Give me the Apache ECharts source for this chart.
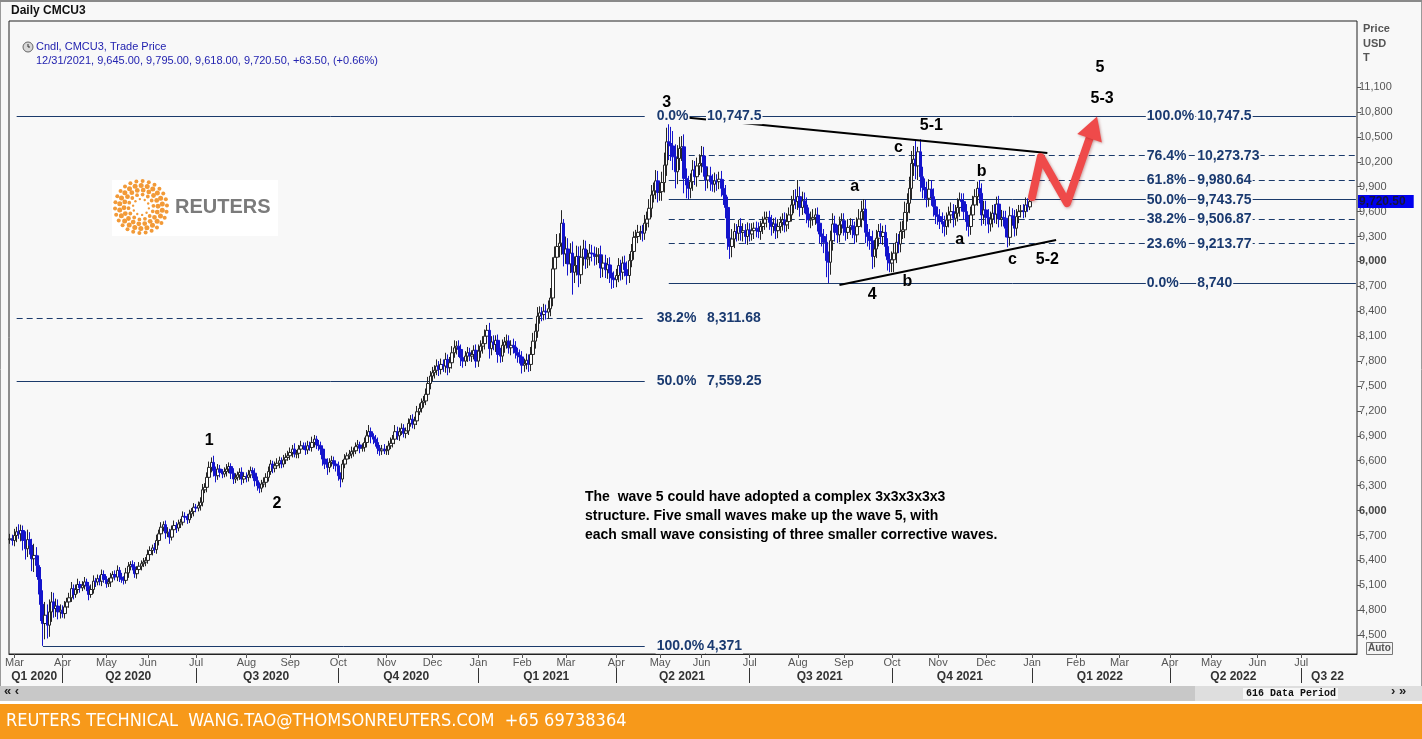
<!DOCTYPE html>
<html>
<head>
<meta charset="utf-8">
<title>Daily CMCU3</title>
<script src="https://cdn.jsdelivr.net/npm/echarts@6/dist/echarts.min.js"></script>
<style>
html, body {margin:0; padding:0; background:#f8f8f8;}
#chart {width:1422px; height:739px;}
</style>
</head>
<body>
<div id="chart"></div>
<script>
// daily closes, USD/t, one line per month
var closes2020 = [
    5660, 5640,
    5700, 5745, 5720, 5760, 5640, 5540, 5650, 5580, 5420, 5460, 5340, 5170, 4870, 4640, 4740, 4620, 4780, 4900, 4820, 4850, 4780, 4800,
    4760, 4840, 4900, 4950, 5060, 4990, 5050, 5110, 5070, 5100, 5140, 5090, 4990, 5050, 5150, 5140, 5180, 5150, 5230, 5170,
    5120, 5140, 5190, 5230, 5200, 5280, 5200, 5170, 5160, 5250, 5330, 5350, 5320, 5240, 5290, 5330, 5360, 5380, 5400,
    5470, 5520, 5550, 5530, 5640, 5720, 5800, 5830, 5730, 5740, 5680, 5770, 5820, 5790, 5840, 5860, 5930, 5920, 5890, 5960, 5990, 6040,
    6030, 6060, 6100, 6250, 6280, 6400, 6520, 6580, 6480, 6420, 6500, 6460, 6440, 6470, 6500, 6530, 6450, 6380, 6400, 6430, 6460, 6380, 6410,
    6400, 6430, 6480, 6450, 6360, 6300, 6270, 6320, 6340, 6400, 6470, 6560, 6510, 6540, 6570, 6600, 6560, 6610, 6640, 6660,
    6700, 6740, 6680, 6690, 6740, 6780, 6770, 6730, 6780, 6760, 6820, 6860, 6790, 6780, 6740, 6620, 6560, 6520, 6580, 6600, 6560, 6540,
    6420, 6380, 6560, 6620, 6660, 6680, 6710, 6720, 6770, 6790, 6750, 6760, 6820, 6900, 6950, 6890, 6860, 6820, 6750, 6720, 6740, 6720,
    6730, 6780, 6810, 6860, 6950, 6900, 6950, 6990, 6930, 6960, 7050, 7100, 7040, 7080, 7190, 7230, 7300, 7320, 7400, 7530, 7620,
    7660, 7690, 7740, 7700, 7760, 7740, 7820, 7720, 7780, 7900, 7960, 7980, 7940, 7840, 7800, 7860, 7900, 7860, 7880, 7930, 7800
];
var closes2021 = [
    7920, 7980, 8010, 8100, 8170, 7950, 8030, 8000, 8050, 7880, 7860, 7990, 8030, 8040, 7960, 7990, 7970, 7900, 7870, 7850,
    7750, 7770, 7810, 7760, 7880, 8040, 8160, 8340, 8380, 8360, 8400, 8390, 8430, 8560, 8910, 9050, 9180, 9220, 9460, 9090,
    9150, 8970, 9100, 8870, 8950, 9060, 8840, 9050, 9150, 9030, 9050, 9100, 9090, 9060, 9070, 9080, 8920, 8980, 8900, 8960, 8860, 8800, 8780,
    8830, 8950, 8870, 8980, 8900, 8830, 9010, 9120, 9290, 9300, 9350, 9360, 9340, 9460, 9510, 9640, 9800, 9850, 9970, 9830,
    9840, 9950, 10160, 10440, 10420, 10390, 10260, 10080, 10240, 10360, 10380, 10000, 9920, 9880, 9960, 10100, 10020, 10150, 10180,
    10270, 10140, 9980, 10030, 9960, 9930, 9970, 9960, 9990, 9880, 9800, 9650, 9280, 9180, 9270, 9360, 9340, 9420, 9350, 9370, 9300, 9380,
    9330, 9370, 9400, 9380, 9360, 9420, 9460, 9510, 9530, 9470, 9420, 9450, 9370, 9420, 9470, 9500, 9440, 9480, 9560, 9680, 9740, 9720,
    9780, 9650, 9730, 9680, 9570, 9500, 9510, 9530, 9560, 9460, 9330, 9300, 9230, 9010, 8990, 9250, 9450, 9350, 9320, 9440, 9490,
    9400, 9350, 9410, 9430, 9380, 9320, 9420, 9510, 9600, 9630, 9350, 9300, 9250, 9060, 9150, 9280, 9360, 9300, 9350, 9180, 9020, 8980,
    9020, 9100, 9230, 9210, 9360, 9380, 9590, 9700, 9880, 10180, 10230, 10150, 10320, 10020, 9890, 9860, 9760, 9870, 9780, 9660, 9560,
    9540, 9480, 9450, 9420, 9500, 9560, 9600, 9520, 9580, 9650, 9740, 9720, 9600, 9480, 9420, 9560, 9680, 9780, 9880, 9820, 9560, 9620,
    9530, 9450, 9510, 9580, 9570, 9690, 9510, 9530, 9520, 9400, 9290, 9550, 9520, 9400, 9540, 9600, 9610, 9600, 9680, 9657, 9720.5
];
// wick lengths (USD above the body top / below the body bottom)
var highAbove2020 = [
    60, 50,
    80, 60, 90, 70, 60, 110, 120, 90, 80, 140, 100, 120, 150, 170, 160, 130, 150, 120, 110, 90, 80, 70,
    60, 70, 50, 60, 80, 50, 60, 70, 40, 50, 60, 40, 50, 60, 70, 40, 50, 40, 60, 50,
    40, 50, 60, 40, 50, 60, 40, 50, 40, 60, 50, 40, 50, 60, 40, 50, 40, 50, 40,
    60, 50, 40, 60, 70, 50, 60, 40, 50, 60, 40, 50, 60, 40, 50, 40, 60, 50, 40, 50, 40, 50,
    40, 50, 60, 70, 50, 60, 70, 60, 80, 50, 60, 50, 40, 50, 60, 50, 40, 60, 50, 40, 50, 60, 40,
    50, 60, 50, 40, 60, 50, 40, 50, 60, 50, 60, 50, 40, 50, 60, 50, 40, 60, 50, 60,
    60, 50, 70, 40, 50, 60, 40, 50, 60, 50, 70, 50, 40, 60, 50, 40, 60, 70, 50, 60, 50, 40,
    50, 40, 50, 60, 40, 50, 60, 40, 50, 60, 40, 50, 60, 70, 80, 50, 40, 50, 60, 40, 50, 60,
    50, 60, 70, 50, 80, 60, 50, 60, 50, 40, 60, 50, 60, 50, 70, 60, 50, 60, 70, 80, 60,
    70, 60, 80, 60, 70, 60, 80, 60, 70, 80, 90, 60, 70, 60, 70, 60, 70, 60, 50, 60, 70
];
var lowBelow2020 = [
    50, 60,
    70, 80, 60, 90, 120, 130, 100, 110, 150, 160, 140, 180, 200, 269, 190, 160, 140, 120, 110, 100, 90, 80,
    50, 60, 40, 70, 50, 60, 40, 50, 60, 40, 50, 60, 70, 40, 50, 60, 40, 50, 60, 40,
    50, 40, 60, 50, 40, 50, 60, 40, 50, 40, 60, 50, 40, 50, 60, 40, 50, 40, 50,
    40, 50, 60, 40, 50, 60, 40, 50, 70, 50, 80, 40, 50, 60, 40, 50, 40, 60, 50, 40, 50, 60,
    50, 40, 60, 50, 40, 60, 50, 60, 70, 80, 50, 60, 50, 40, 60, 50, 70, 60, 50, 40, 60, 70, 50,
    60, 50, 40, 60, 70, 60, 60, 50, 40, 60, 50, 40, 60, 50, 40, 60, 50, 40, 50, 40,
    50, 60, 40, 50, 60, 50, 40, 60, 50, 40, 50, 60, 50, 60, 70, 80, 60, 90, 60, 50, 60, 70,
    60, 100, 40, 50, 60, 40, 50, 60, 40, 50, 60, 40, 50, 60, 70, 80, 60, 50, 70, 60, 50, 40,
    50, 60, 40, 50, 60, 50, 60, 40, 50, 60, 50, 40, 50, 60, 50, 40, 50, 60, 50, 60, 70,
    60, 70, 60, 80, 60, 70, 80, 90, 60, 70, 60, 80, 90, 100, 80, 60, 70, 60, 70, 60, 80
];
var highAbove2021 = [
    80, 70, 90, 80, 65, 90, 70, 80, 60, 70, 80, 70, 60, 80, 70, 60, 80, 70, 60, 70,
    70, 60, 80, 70, 90, 100, 90, 110, 80, 70, 90, 80, 100, 120, 140, 130, 150, 120, 157, 50,
    150, 130, 120, 140, 110, 130, 120, 140, 110, 100, 90, 110, 100, 90, 100, 80, 110, 90, 100, 80, 90, 100, 80,
    80, 90, 70, 80, 90, 100, 80, 90, 70, 80, 90, 70, 80, 100, 90, 110, 120, 100, 130, 120,
    110, 130, 150, 170, 307.5, 200, 180, 150, 160, 140, 130, 150, 120, 110, 100, 120, 110, 100, 110,
    120, 110, 130, 100, 110, 90, 100, 80, 90, 100, 110, 120, 130, 140, 120, 100, 90, 80, 100, 90, 80, 90,
    80, 90, 70, 80, 90, 70, 80, 90, 70, 80, 90, 70, 80, 90, 70, 80, 90, 100, 90, 110, 120, 130,
    200, 120, 110, 100, 90, 80, 90, 100, 80, 90, 100, 80, 90, 100, 110, 120, 130, 100, 90, 100, 90,
    90, 80, 100, 90, 80, 100, 110, 120, 130, 120, 110, 100, 90, 120, 110, 100, 90, 100, 80, 90, 100, 80,
    100, 120, 110, 100, 120, 110, 130, 120, 140, 150, 160, 222, 60, 150, 120, 110, 100, 120, 110, 100, 90,
    100, 90, 110, 100, 90, 100, 110, 90, 100, 110, 90, 80, 100, 90, 80, 100, 110, 90, 80, 100, 120, 110,
    110, 100, 90, 100, 110, 90, 100, 90, 80, 90, 100, 110, 90, 100, 90, 80, 70, 80, 90, 80, 74.5
];
var lowBelow2021 = [
    70, 80, 90, 70, 60, 120, 80, 70, 90, 100, 80, 70, 90, 80, 70, 90, 80, 70, 90, 80,
    100, 80, 70, 90, 80, 70, 90, 80, 90, 80, 70, 90, 80, 90, 100, 110, 120, 130, 140, 150,
    120, 140, 110, 270, 130, 120, 150, 110, 100, 120, 110, 100, 90, 110, 100, 90, 120, 110, 100, 110, 120, 130, 100,
    90, 80, 100, 90, 80, 110, 90, 80, 100, 90, 80, 90, 100, 80, 90, 100, 110, 90, 100, 120,
    100, 110, 120, 130, 200, 180, 160, 200, 150, 140, 150, 180, 160, 130, 120, 110, 100, 120, 110,
    110, 120, 130, 100, 110, 90, 100, 110, 90, 100, 120, 130, 140, 150, 130, 110, 100, 90, 100, 110, 90, 100,
    90, 80, 100, 90, 80, 100, 90, 80, 100, 90, 110, 80, 100, 90, 80, 100, 90, 80, 90, 80, 100, 90,
    100, 110, 90, 100, 110, 90, 100, 80, 90, 100, 110, 120, 130, 200, 250, 150, 120, 110, 100, 90, 100,
    90, 100, 80, 90, 100, 110, 90, 80, 100, 110, 130, 120, 110, 150, 130, 110, 100, 90, 100, 120, 130, 110,
    110, 150, 120, 110, 100, 90, 100, 110, 120, 130, 150, 160, 170, 180, 130, 120, 110, 100, 110, 120, 110,
    100, 90, 110, 120, 100, 90, 100, 110, 90, 100, 110, 120, 100, 110, 120, 100, 90, 100, 110, 120, 130, 110,
    100, 110, 90, 100, 110, 120, 100, 90, 100, 110, 120, 100, 90, 100, 90, 80, 70, 80, 70, 60, 39
];
var firstOpen = 5650;

// LME closed days, the axis skips them
var holidays = ['2020-04-10','2020-04-13','2020-05-08','2020-05-25','2020-08-31','2020-12-25','2020-12-28',
    '2021-01-01','2021-04-02','2021-04-05','2021-05-03','2021-05-31','2021-08-30','2021-12-27','2021-12-28',
    '2022-01-03','2022-04-15','2022-04-18','2022-05-02','2022-06-02','2022-06-03'];
var monthNames = ['Jan','Feb','Mar','Apr','May','Jun','Jul','Aug','Sep','Oct','Nov','Dec'];
var quarterLabels = ['Q1 2020','Q2 2020','Q3 2020','Q4 2020','Q1 2021','Q2 2021','Q3 2021','Q4 2021','Q1 2022','Q2 2022','Q3 22'];
var yTicks = [4500, 4800, 5100, 5400, 5700, 6000, 6300, 6600, 6900, 7200, 7500, 7800, 8100, 8400, 8700, 9000,
    9300, 9600, 9900, 10200, 10500, 10800, 11100];

// fibonacci levels: 4,371 -> 10,747.5 and 8,740 -> 10,747.5
var fibBigPct = ['0.0%', '38.2%', '50.0%', '100.0%'];
var fibBigVal = [10747.5, 8311.68, 7559.25, 4371];
var fibSmallPct = ['100.0%', '76.4%', '61.8%', '50.0%', '38.2%', '23.6%', '0.0%'];
var fibSmallVal = [10747.5, 10273.73, 9980.64, 9743.75, 9506.87, 9213.77, 8740];

// elliott wave labels [text, bar index, price]
var waveLabels = [
    ['1', 91, 6838], ['2', 122, 6079], ['3', 300, 10907], ['4', 394, 8596], ['5', 498, 11329],
    ['5-1', 421, 10630], ['5-2', 474, 9017], ['5-3', 499, 10956],
    ['a', 386, 9896], ['c', 406, 10366], ['b', 444, 10077],
    ['b', 410, 8752], ['a', 434, 9258], ['c', 458, 9017]
];
var trendUpper = [[309, 10733], [474, 10305]];
var trendLower = [[379, 8716], [478, 9258]];
var arrowPath = [[467, 9776], [471, 10257], [483, 9703], [495, 10614]];

var lastOHLC = [9645.00, 9795.00, 9618.00, 9720.50];
var lastChange = 63.50, lastChangePct = 0.66;

var FONT = '"Liberation Sans", Arial, sans-serif';

function tradingDays(start, count) {
    var out = [];
    var d = new Date(start + 'T00:00:00Z');
    while (out.length < count) {
        var wd = d.getUTCDay();
        var s = d.toISOString().slice(0, 10);
        if (wd !== 0 && wd !== 6 && holidays.indexOf(s) < 0) out.push(s);
        d.setUTCDate(d.getUTCDate() + 1);
    }
    return out;
}

function fmt(v, dec) {
    return v.toLocaleString('en-US', {minimumFractionDigits: dec || 0, maximumFractionDigits: dec == null ? 2 : dec});
}

var days = tradingDays('2020-02-27', 616);
var closes = closes2020.concat(closes2021);
var highAbove = highAbove2020.concat(highAbove2021);
var lowBelow = lowBelow2020.concat(lowBelow2021);

var candles = [];
for (var i = 0; i < closes.length; i++) {
    var o = i === 0 ? firstOpen : closes[i - 1];
    var c = closes[i];
    candles.push([o, c, Math.min(o, c) - lowBelow[i], Math.max(o, c) + highAbove[i]]);
}

// month ticks and quarter bands
var monthStart = {}, quarterStart = {}, quarterMid = {};
var qFrom = 0, qNum = 0;
for (var i = 1; i <= days.length; i++) {
    var pm = +days[i - 1].slice(5, 7);
    var m = i < days.length ? +days[i].slice(5, 7) : -1;
    // the last few bars have no room for a month name
    if (i < days.length - 10 && m !== pm) monthStart[i] = true;
    var pq = Math.floor((pm - 1) / 3);
    var q = m < 0 ? -1 : Math.floor((m - 1) / 3);
    if (q !== pq) {
        quarterMid[Math.floor((qFrom + i - 1) / 2)] = quarterLabels[qNum];
        qNum++;
        qFrom = i;
        if (i < days.length) quarterStart[i] = true;
    }
}

// fib lines
var fibLines = [];
function pushFib(pcts, vals, from, to) {
    for (var k = 0; k < pcts.length; k++) {
        var dashed = ['0.0%', '50.0%', '100.0%'].indexOf(pcts[k]) < 0;
        var st = {color: '#1b3a6b', width: 1, type: dashed ? [6, 4] : 'solid'};
        var f = (pcts[k] === '100.0%' && vals[k] === 4371) ? 15 : from;
        fibLines.push([{coord: [f, vals[k]], lineStyle: st}, {coord: [to, vals[k]], lineStyle: st}]);
    }
}
pushFib(fibBigPct, fibBigVal, 3, 290);
pushFib(fibSmallPct, fibSmallVal, 301, 615);

var fibLabels = [];
function pushFibLabels(pcts, vals, pctAt, valAt) {
    for (var k = 0; k < pcts.length; k++) {
        fibLabels.push({name: pcts[k], value: [pctAt, vals[k]]});
        fibLabels.push({name: fmt(vals[k]), value: [valAt, vals[k]]});
    }
}
pushFibLabels(fibBigPct, fibBigVal, 295, 318);
pushFibLabels(fibSmallPct, fibSmallVal, 519, 542);

var waveData = waveLabels.map(function (w) { return {name: w[0], value: [w[1], w[2]]}; });

// reuters logo dots
var logoDots = [];
[[8, 10, 1.2], [12.5, 14, 1.9], [17, 18, 2.4], [21.5, 22, 2.5], [26, 26, 2.0]].forEach(function (r) {
    for (var k = 0; k < r[1]; k++) {
        var a = k / r[1] * Math.PI * 2 + r[0] * 0.1;
        logoDots.push({type: 'circle', shape: {cx: 141 + r[0] * Math.cos(a), cy: 207 + r[0] * Math.sin(a), r: r[2]},
            style: {fill: '#f29a38'}});
    }
});

var noteText = 'The  wave 5 could have adopted a complex 3x3x3x3x3\n' +
    'structure. Five small waves make up the wave 5, with\n' +
    'each small wave consisting of three smaller corrective waves.';

var legend2 = '12/31/2021, ' + lastOHLC.map(function (v) { return fmt(v, 2); }).join(', ') +
    ', +' + lastChange.toFixed(2) + ', (+' + lastChangePct.toFixed(2) + '%)';

var myChart = echarts.init(document.getElementById('chart'));
var option = {
    animation: false,
    backgroundColor: '#f8f8f8',
    textStyle: {fontFamily: FONT},
    grid: {left: 9, right: 65, top: 21, bottom: 85, show: true, backgroundColor: '#f8f8f8',
        borderColor: '#222', borderWidth: 1},
    xAxis: [
        {
            type: 'category', data: days, boundaryGap: true,
            axisLine: {show: true, lineStyle: {color: '#222'}},
            axisTick: {show: true, alignWithLabel: true, length: 4, lineStyle: {color: '#555'},
                interval: function (i) { return !!monthStart[i]; }},
            axisLabel: {interval: function (i) { return !!monthStart[i]; }, color: '#555', fontSize: 11, margin: 3,
                formatter: function (v) { return monthNames[+v.slice(5, 7) - 1]; }},
            splitLine: {show: false}
        },
        {
            type: 'category', data: days, boundaryGap: true, position: 'bottom', offset: 14,
            axisLine: {show: false},
            axisTick: {show: true, alignWithLabel: true, length: 15, lineStyle: {color: '#333'},
                interval: function (i) { return !!quarterStart[i]; }},
            axisLabel: {interval: function (i) { return quarterMid[i] != null; }, color: '#333', fontSize: 12,
                fontWeight: 'bold', margin: 3,
                formatter: function (v, i) { return quarterMid[i] || ''; }},
            splitLine: {show: false}
        }
    ],
    yAxis: {
        type: 'value', position: 'right', min: 4273, max: 11895,
        axisLine: {show: false},
        axisTick: {show: true, length: 4, lineStyle: {color: '#555'}, customValues: yTicks},
        axisLabel: {customValues: yTicks, color: '#555', fontSize: 11, margin: 2,
            formatter: function (v) {
                var s = fmt(v);
                return v % 3000 === 0 ? '{b|' + s + '}' : s;
            },
            rich: {b: {fontWeight: 'bold', color: '#444', fontSize: 11}}},
        splitLine: {show: false}
    },
    series: [
        {
            name: 'fib', type: 'line', data: [], z: 1,
            markLine: {silent: true, z: 1, symbol: ['none', 'none'], label: {show: false}, data: fibLines}
        },
        {
            name: 'CMCU3', type: 'candlestick', data: candles, barWidth: 3, z: 2,
            itemStyle: {color: '#ffffff', color0: '#1414cc', borderColor: '#262626', borderColor0: '#1414cc', borderWidth: 1},
            markLine: {
                silent: true, z: 6, symbol: ['none', 'none'],
                lineStyle: {color: 'rgba(0,0,0,0)', width: 1, type: 'solid'},
                label: {show: true, position: 'end', distance: 1, formatter: fmt(lastOHLC[3], 2),
                    backgroundColor: '#0000ee', color: '#14143c', fontWeight: 'bold', fontSize: 12,
                    padding: [1, 8, 0, 1], opacity: 1},
                emphasis: {disabled: true},
                data: [{yAxis: lastOHLC[3]}]
            }
        },
        {
            name: 'trend', type: 'line', data: [], z: 3,
            markLine: {silent: true, z: 3, symbol: ['none', 'none'], label: {show: false},
                lineStyle: {color: '#000', width: 2, type: 'solid'},
                data: [
                    [{coord: trendUpper[0]}, {coord: trendUpper[1]}],
                    [{coord: trendLower[0]}, {coord: trendLower[1]}]
                ]}
        },
        {
            name: 'path', type: 'line', data: arrowPath, symbol: 'none', z: 4, silent: true,
            lineStyle: {color: '#ef4a4a', width: 8, cap: 'round', join: 'round',
                shadowColor: 'rgba(120,0,0,0.35)', shadowBlur: 3, shadowOffsetX: 1, shadowOffsetY: 1}
        },
        {
            name: 'head', type: 'scatter', data: [arrowPath[arrowPath.length - 1]], z: 4, silent: true,
            symbol: 'triangle', symbolSize: [26, 23], symbolRotate: -19,
            itemStyle: {color: '#ef4a4a', opacity: 1, shadowColor: 'rgba(120,0,0,0.35)', shadowBlur: 3, shadowOffsetX: 1, shadowOffsetY: 1}
        },
        {
            name: 'fibText', type: 'scatter', data: fibLabels, symbolSize: 0, z: 7, silent: true,
            itemStyle: {opacity: 1},
            label: {show: true, position: 'right', distance: 0, formatter: '{b}', color: '#1a3a70', opacity: 1,
                fontWeight: 'bold', fontSize: 14, fontFamily: FONT, backgroundColor: '#f8f8f8', padding: [1, 1]}
        },
        {
            name: 'waves', type: 'scatter', data: waveData, symbolSize: 0, z: 7, silent: true,
            itemStyle: {opacity: 1},
            label: {show: true, position: 'inside', formatter: '{b}', color: '#000', opacity: 1,
                fontWeight: 'bold', fontSize: 16, fontFamily: FONT}
        }
    ],
    graphic: {elements: [
        {type: 'rect', z: 0, shape: {x: 0.5, y: 0.5, width: 1421, height: 738}, style: {fill: 'none', stroke: '#9a9a9a'}},
        {type: 'rect', z: 0, shape: {x: 0, y: 0, width: 1422, height: 2}, style: {fill: '#8a8a8a'}},
        {type: 'text', z: 10, left: 11, top: 5, style: {text: 'Daily CMCU3', font: 'bold 12px ' + FONT, fill: '#111'}},
        {type: 'circle', z: 10, shape: {cx: 28, cy: 47, r: 5}, style: {fill: '#d8d8d8', stroke: '#666', lineWidth: 1}},
        {type: 'polyline', z: 10, shape: {points: [[28, 44], [28, 47], [30, 47]]}, style: {stroke: '#333', lineWidth: 1}},
        {type: 'text', z: 10, left: 36, top: 41, style: {text: 'Cndl, CMCU3, Trade Price', font: '11px ' + FONT, fill: '#2323b0'}},
        {type: 'text', z: 10, left: 36, top: 55, style: {text: legend2, font: '11px ' + FONT, fill: '#2323b0'}},
        {type: 'text', z: 10, left: 1363, top: 22, style: {text: 'Price\nUSD\nT', font: 'bold 11px ' + FONT, fill: '#555', lineHeight: 14.5}},
        {type: 'group', z: 5, children: [
            {type: 'rect', shape: {x: 112, y: 180, width: 166, height: 56}, style: {fill: '#ffffff'}}
        ].concat(logoDots).concat([
            {type: 'text', x: 175, y: 197, style: {text: 'REUTERS', font: 'bold 20px ' + FONT, fill: '#7b7b7b'}}
        ])},
        {type: 'text', z: 10, left: 585, top: 488, style: {text: noteText, font: 'bold 14px ' + FONT, fill: '#000', lineHeight: 19}},
        {type: 'rect', z: 10, shape: {x: 1366.5, y: 642.5, width: 26, height: 12}, style: {fill: '#f4f4f4', stroke: '#777'}},
        {type: 'text', z: 11, left: 1368, top: 643, style: {text: 'Auto', font: 'bold 10px ' + FONT, fill: '#555'}},
        {type: 'rect', z: 10, shape: {x: 0, y: 686, width: 1195, height: 15}, style: {fill: '#c8c8c8'}},
        {type: 'rect', z: 10, shape: {x: 1195, y: 686, width: 227, height: 15}, style: {fill: '#dedede'}},
        {type: 'text', z: 11, left: 4, top: 685, style: {text: '\u00ab \u2039', font: 'bold 13px ' + FONT, fill: '#222'}},
        {type: 'text', z: 11, left: 1391, top: 685, style: {text: '\u203a \u00bb', font: 'bold 13px ' + FONT, fill: '#222'}},
        {type: 'rect', z: 11, shape: {x: 1243, y: 688, width: 95, height: 11}, style: {fill: '#f6f6f6'}},
        {type: 'text', z: 12, left: 1246, top: 688, style: {text: '616 Data Period', font: 'bold 10px "Liberation Mono", monospace', fill: '#111'}},
        {type: 'rect', z: 10, shape: {x: 0, y: 701, width: 1422, height: 3}, style: {fill: '#ffffff'}},
        {type: 'rect', z: 10, shape: {x: 0, y: 704, width: 1422, height: 35}, style: {fill: '#f7991a'}},
        {type: 'text', z: 11, left: 6, top: 712, style: {text: 'REUTERS TECHNICAL  WANG.TAO@THOMSONREUTERS.COM  +65 69738364',
            font: '18px "Liberation Sans Narrow", "DejaVu Sans Condensed", "Open Sans", sans-serif', fill: '#ffffff'}}
    ]}
};
myChart.setOption(option);
</script>
</body>
</html>
